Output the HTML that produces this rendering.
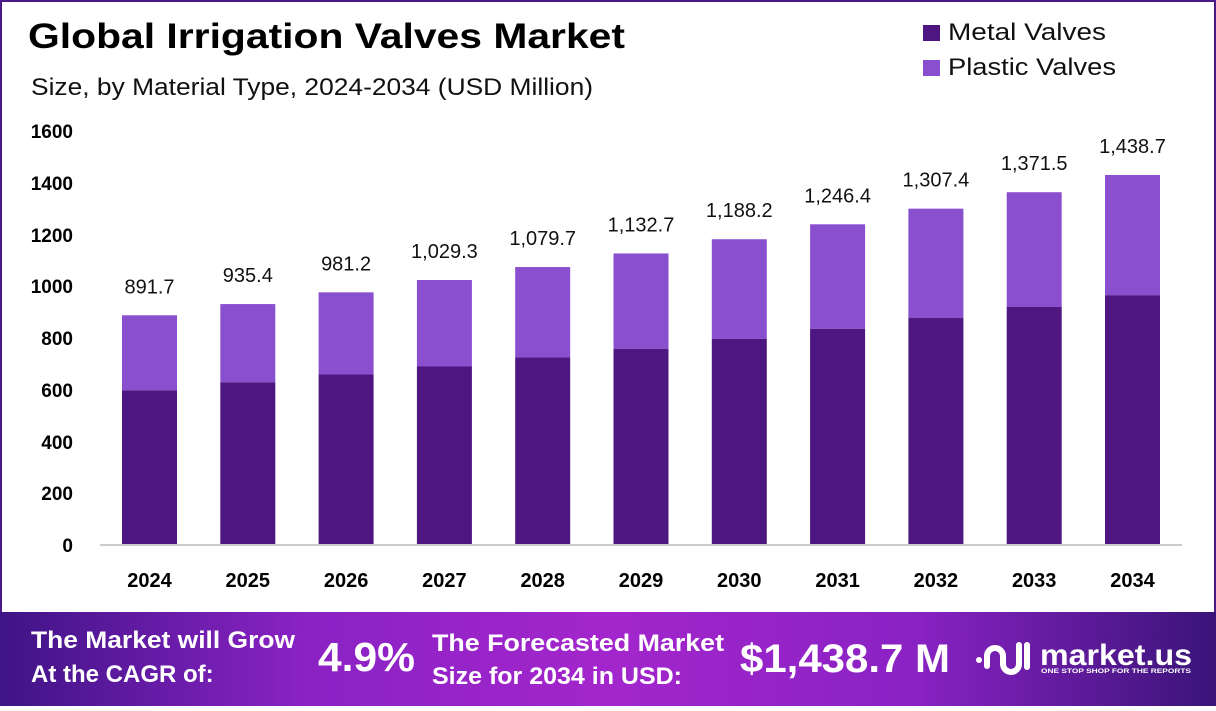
<!DOCTYPE html>
<html><head><meta charset="utf-8"><style>
html,body{margin:0;padding:0}
body{width:1216px;height:706px;overflow:hidden;background:#fff;font-family:"Liberation Sans",sans-serif}
</style></head><body>
<svg width="1216" height="706" viewBox="0 0 1216 706" xmlns="http://www.w3.org/2000/svg">
<defs>
<linearGradient id="fg" x1="0" x2="1" y1="0" y2="0">
<stop offset="0" stop-color="#3f1486"/>
<stop offset="0.25" stop-color="#8a22c4"/>
<stop offset="0.5" stop-color="#a326cc"/>
<stop offset="0.75" stop-color="#8a22c4"/>
<stop offset="1" stop-color="#3a1478"/>
</linearGradient>
</defs>
<rect x="1" y="1" width="1214" height="704" fill="#fff" stroke="#4a1a86" stroke-width="2"/>
<text x="28" y="48" font-size="35" font-weight="bold" fill="#000" textLength="597" lengthAdjust="spacingAndGlyphs">Global Irrigation Valves Market</text>
<text x="31" y="95" font-size="24" fill="#111" textLength="562" lengthAdjust="spacingAndGlyphs">Size, by Material Type, 2024-2034 (USD Million)</text>
<rect x="923" y="25" width="17" height="16" fill="#4e1680"/>
<text x="948" y="40" font-size="24" fill="#111" textLength="158" lengthAdjust="spacingAndGlyphs">Metal Valves</text>
<rect x="923" y="60" width="17" height="16" fill="#8a4fcf"/>
<text x="948" y="75" font-size="24" fill="#111" textLength="168" lengthAdjust="spacingAndGlyphs">Plastic Valves</text>
<g font-size="19" font-weight="bold" fill="#000" text-anchor="end">
<text x="73" y="138">1600</text><text x="73" y="190">1400</text><text x="73" y="242">1200</text><text x="73" y="293">1000</text>
<text x="73" y="345">800</text><text x="73" y="397">600</text><text x="73" y="449">400</text><text x="73" y="500">200</text><text x="73" y="552">0</text>
</g>
<line x1="100" y1="545" x2="1182" y2="545" stroke="#ccc" stroke-width="2"/>
<g id="bars"></g>
<g font-size="20" font-weight="bold" fill="#000" text-anchor="middle" id="years"></g>
<g font-size="20" fill="#111" text-anchor="middle" id="vals"></g>
<rect x="0" y="612" width="1216" height="94" fill="url(#fg)"/>
<g font-weight="bold" fill="#fff">
<text x="31" y="648" font-size="24" textLength="264" lengthAdjust="spacingAndGlyphs">The Market will Grow</text>
<text x="31" y="682" font-size="24">At the CAGR of:</text>
<text x="318" y="671" font-size="41" textLength="97" lengthAdjust="spacingAndGlyphs">4.9%</text>
<text x="432" y="651" font-size="24" textLength="292" lengthAdjust="spacingAndGlyphs">The Forecasted Market</text>
<text x="432" y="684" font-size="24" textLength="250" lengthAdjust="spacingAndGlyphs">Size for 2034 in USD:</text>
<text x="740" y="672" font-size="40" textLength="210" lengthAdjust="spacingAndGlyphs">$1,438.7 M</text>
<text x="1040" y="665" font-size="30" textLength="152" lengthAdjust="spacingAndGlyphs">market.us</text>
<text x="1041" y="673" font-size="6" textLength="150" lengthAdjust="spacingAndGlyphs">ONE STOP SHOP FOR THE REPORTS</text>
</g>
<g fill="none" stroke="#fff" stroke-width="6" stroke-linecap="round">
<path d="M987 666 v-10 a8 8 0 0 1 16 0 v8 a8 8 0 0 0 16 0"/>
<path d="M1019 645 v18"/><path d="M1027 645 v22"/>
</g>
<circle cx="979" cy="660" r="3" fill="#fff"/>
</svg>
<script>
var tot=[891.7,935.4,981.2,1029.3,1079.7,1132.7,1188.2,1246.4,1307.4,1371.5,1438.7];
var met=[599,630,661,692,727,761,800,839,881,924,970];
var s=0.2565,b=544,h="",y="",v="";
for(var i=0;i<11;i++){var x=122+98.3*i,t=b-tot[i]*s,m=b-met[i]*s;
h+='<rect x="'+x+'" y="'+t+'" width="55" height="'+(m-t)+'" fill="#8a4fcf"/><rect x="'+x+'" y="'+m+'" width="55" height="'+(b-m)+'" fill="#4e1680"/>';
y+='<text x="'+(x+27.5)+'" y="587">'+(2024+i)+'</text>';
v+='<text x="'+(x+27.5)+'" y="'+(t-22)+'">'+tot[i].toLocaleString("en-US",{minimumFractionDigits:1})+'</text>';}
document.getElementById("bars").innerHTML=h;document.getElementById("years").innerHTML=y;document.getElementById("vals").innerHTML=v;
</script>
</body></html>
